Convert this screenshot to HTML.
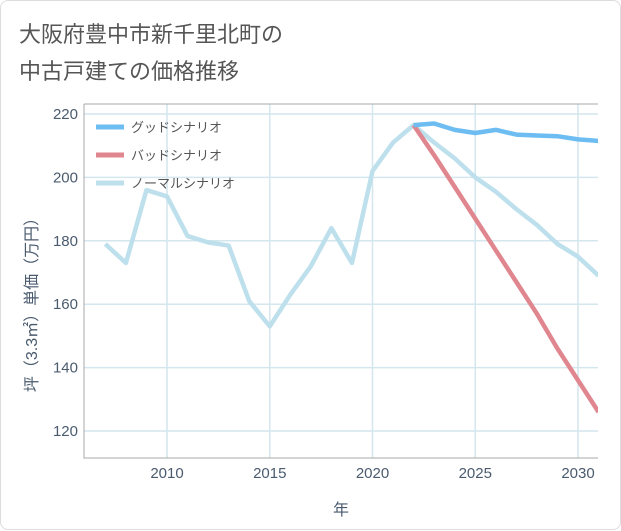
<!DOCTYPE html>
<html><head><meta charset="utf-8"><style>
body{margin:0;background:#fff;font-family:"Liberation Sans","Noto Sans CJK JP",sans-serif}
#wrap{position:absolute;left:0;top:0;width:619px;height:528px;border:1px solid #ddd;border-radius:8px;background:#fff}
.title{position:absolute;left:18px;font-size:22px;color:#555}
</style></head><body>
<div id="wrap">
<div class="title" style="top:16px">大阪府豊中市新千里北町の</div>
<div class="title" style="top:53px">中古戸建ての価格推移</div>
<svg id="c" width="621" height="530" style="position:absolute;left:0;top:0"></svg>
</div>
<script>
const years=[2007,2008,2009,2010,2011,2012,2013,2014,2015,2016,2017,2018,2019,2020,2021,2022,2023,2024,2025,2026,2027,2028,2029,2030,2031];
const normal=[179,173,196,194,181.5,179.5,178.5,161,153,163,172,184,173,202,211,216.5,211,206,200,195.5,190,185,179,175,169];
const goodYears=[2022,2023,2024,2025,2026,2027,2028,2029,2030,2031];
const good=[216.5,217,215,214,215,213.5,213.2,213,212,211.5];
const bad=[216.5,207,197,187,177,167,157,146,136,126];
const xTicks=[2010,2015,2020,2025,2030];
const yTicks=[120,140,160,180,200,220];
const L=83,R=597,T=103,B=457;
const X=v=>166+(v-2010)*20.55;
const Y=v=>430-(v-120)*3.17;
const svg=document.getElementById('c');const NS='http://www.w3.org/2000/svg';
function mk(t,a,p){const e=document.createElementNS(NS,t);for(const k in a)e.setAttribute(k,a[k]);(p||svg).appendChild(e);return e;}
xTicks.forEach(v=>{const g=mk('line',{x1:X(v),x2:X(v),y1:T,y2:B,stroke:'#d4e6ee','stroke-width':1.5});

const t=mk('text',{x:X(v),y:B+20,'text-anchor':'middle','font-size':15,fill:'#4a5b6e'});t.textContent=v;
});
yTicks.forEach(v=>{const g=mk('line',{x1:L,x2:R,y1:Y(v),y2:Y(v),stroke:'#d4e6ee','stroke-width':1.5});

const t=mk('text',{x:L-6,y:Y(v)+5,'text-anchor':'end','font-size':15,fill:'#4a5b6e'});t.textContent=v;
});
const ax=mk('path',{d:`M${L},${T}V${B}H${R}M${L},${T}H${R}`,stroke:'#aaa',fill:'none','stroke-width':1});

function line(xs,ys,col,name){const p=mk('polyline',{points:xs.map((x,i)=>X(x)+','+Y(ys[i])).join(' '),fill:'none',stroke:col,'stroke-width':4.5,'stroke-linejoin':'round'});
}
const clip=mk('clipPath',{id:'cl'});mk('rect',{x:L,y:T,width:R-L,height:B-T},clip);
line(years,normal,'#bde0ec','normal-scenario-line');
line(goodYears,bad,'#e0868f','bad-scenario-line');
line(goodYears,good,'#6dbdf2','good-scenario-line');
svg.querySelectorAll('polyline').forEach(p=>p.setAttribute('clip-path','url(#cl)'));
[['グッドシナリオ','#6dbdf2'],['バッドシナリオ','#e0868f'],['ノーマルシナリオ','#bde0ec']].forEach((d,i)=>{
const y=126+i*28;const l=mk('line',{x1:95,x2:123,y1:y,y2:y,stroke:d[1],'stroke-width':5});

const t=mk('text',{x:130,y:y+5,'font-size':13,fill:'#555'});t.textContent=d[0];
});
const xt=mk('text',{x:340,y:514,'text-anchor':'middle','font-size':16,fill:'#4a5b6e'});xt.textContent='年';

const yt=mk('text',{x:0,y:0,'text-anchor':'middle','font-size':16,fill:'#4a5b6e',transform:'translate(36,300) rotate(-90)'});yt.textContent='坪（3.3㎡）単価（万円）';

</script>
</body></html>
